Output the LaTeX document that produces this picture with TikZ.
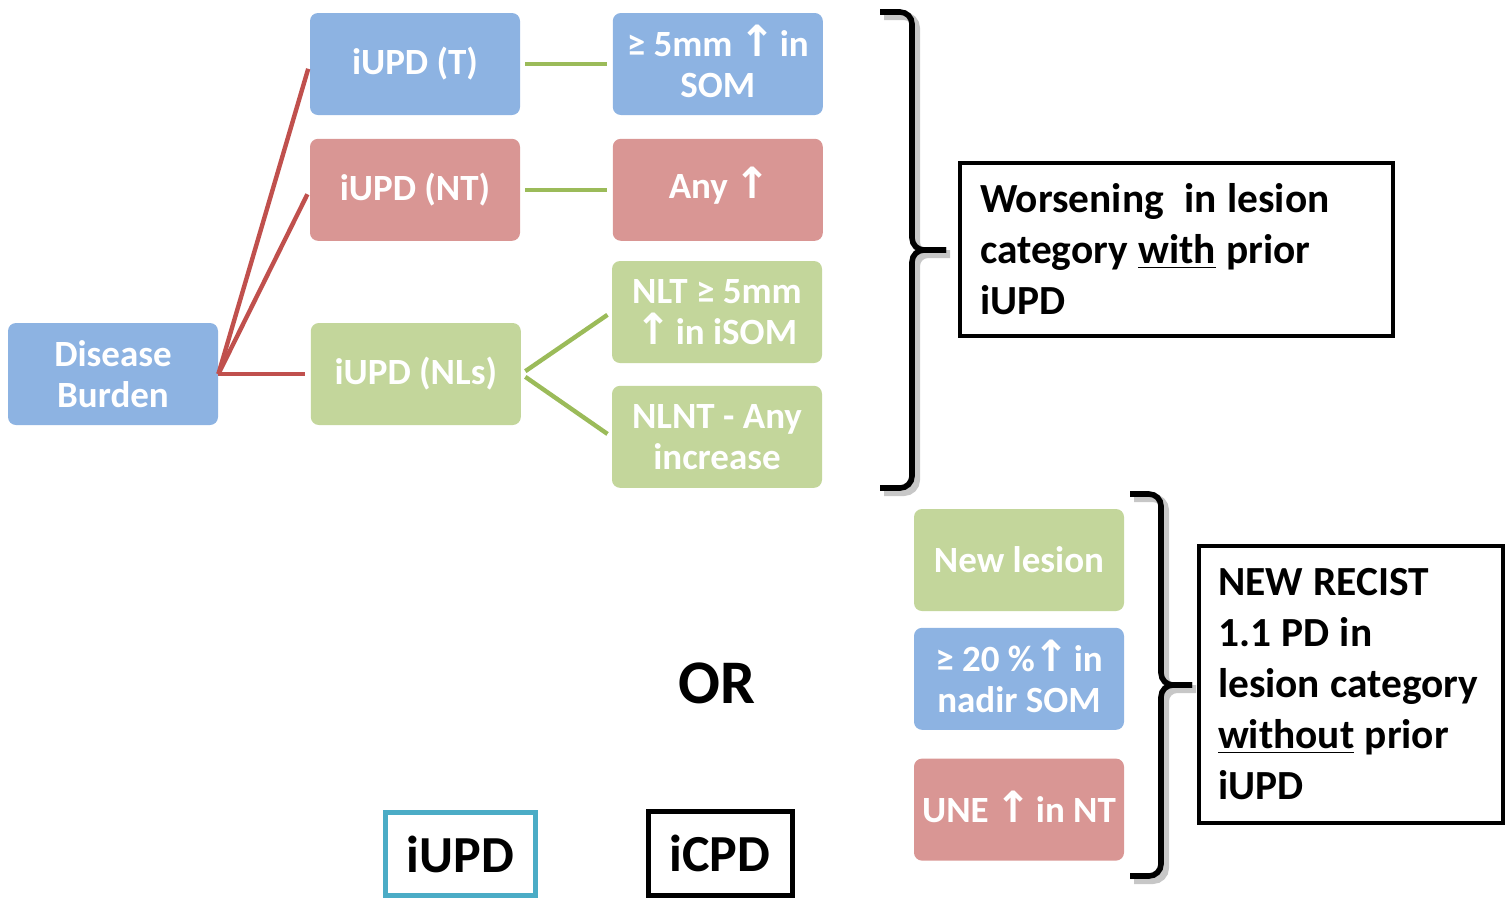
\documentclass[tikz,border=0pt]{standalone}
\usepackage{fontspec}
\setmainfont{Carlito}
\newfontfamily\symfont{DejaVu Sans}
\usepackage{tikz}
\usetikzlibrary{positioning}
\definecolor{boxblue}{HTML}{8DB3E2}
\definecolor{boxred}{HTML}{D99694}
\definecolor{boxgreen}{HTML}{C3D69B}
\definecolor{linered}{HTML}{C0504D}
\definecolor{linegreen}{HTML}{9BBB59}
\definecolor{iupdteal}{HTML}{4BACC6}
\newcommand{\upar}{\smash{\kern-0.05em{\symfont\fontsize{21.5}{20}\selectfont ↑}\kern-0.1em}}

\begin{document}
\begin{tikzpicture}[
x=0.5pt, y=-0.5pt,
every node/.style={font=\bfseries},
cat/.style={
rounded corners=4pt,
minimum width=105pt,
minimum height=51pt,
align=center,
text=white,
font=\fontsize{18.5}{20.5}\selectfont\bfseries
},
tbox/.style={cat, fill=boxblue},
ntbox/.style={cat, fill=boxred},
nlbox/.style={cat, fill=boxgreen},
redline/.style={linered, line width=2.2pt, shorten >=2.5pt},
greenline/.style={linegreen, line width=2.2pt, shorten <=2.5pt, shorten >=2.5pt},
outbox/.style={
draw,
line width=2pt,
align=left,
font=\fontsize{20.7}{25.5}\selectfont\bfseries
},
legbox/.style={draw, line width=2.5pt, font=\fontsize{26}{30}\selectfont\bfseries},
brace/.style={line width=2.8pt, rounded corners=6pt},
braceshadow/.style={brace, black!22, line width=4pt}
]
\useasboundingbox (0,0) rectangle (1505,901);

% Lesion categories
\node[tbox] (db) at (113,374) {Disease\\Burden};
\node[nlbox, right=46pt of db] (nls) {iUPD (NLs)};
\node[tbox] (t) at (415,64) {iUPD (T)};
\node[ntbox, below=11.5pt of t] (nt) {iUPD (NT)};

% Criteria with prior iUPD
\node[tbox, right=46pt of t] (som) {≥ 5mm \upar{} in\\SOM};
\node[ntbox, right=46pt of nt] (any) {Any \upar};
\node[nlbox] (nlt) at (717,312) {NLT ≥ 5mm\\\upar{} in iSOM};
\node[nlbox, below=11pt of nlt] (nlnt) {NLNT - Any\\increase};

% Criteria without prior iUPD
\node[nlbox] (newles) at (1019,560) {New lesion};
\node[tbox, below=8pt of newles] (nadir) {≥ 20 \%\upar{} in\\nadir SOM};
\node[ntbox, below=14pt of nadir] (une) {UNE \upar{} in NT};

% Outcome boxes
\node[outbox, text width=196.5pt, inner xsep=10pt, minimum height=86.5pt] (wors) at (1176.5,249.5)
{\spaceskip=0.25em Worsening\hspace{0.5em}in lesion\\category \underline{with} prior\\iUPD};
\node[outbox, text width=133pt, inner xsep=9.5pt, minimum height=138.5pt] (recist) at (1351,684.5)
{\spaceskip=0.25em NEW RECIST\\1.1 PD in\\\mbox{lesion category}\\\underline{without} prior\\iUPD};

\node[font=\fontsize{31}{36}\selectfont\bfseries] (or) at (717,683) {OR};
\node[legbox, draw=iupdteal, minimum width=75pt, minimum height=41.5pt] (iupd) at (460.5,854) {iUPD};
\node[legbox, minimum width=72pt, minimum height=42pt] (icpd) at (720,853.5) {iCPD};

% Braces
\draw[braceshadow, xshift=2pt, yshift=-2pt] (880,12) -| (912,250) -- (946,250)
  (880,488) -| (912,250) -- (946,250);
\draw[brace] (880,12) -| (912,250) -- (946,250);
\draw[brace] (880,488) -| (912,250) -- (946,250);
\draw[braceshadow, xshift=2pt, yshift=-2pt] (1130,494) -| (1161,685) -- (1192,685)
  (1130,876) -| (1161,685) -- (1192,685);
\draw[brace] (1130,494) -| (1161,685) -- (1192,685);
\draw[brace] (1130,876) -| (1161,685) -- (1192,685);

% Lines
\draw[redline] (db.east) -- (t.west);
\draw[redline] (db.east) -- (nt.west);
\draw[redline] (db.east) -- (nls.west);
\draw[greenline] (t) -- (som);
\draw[greenline] (nt) -- (any);
\draw[greenline] (nls.east) -- (nlt.west);
\draw[greenline] (nls.east) -- (nlnt.west);

\end{tikzpicture}
\end{document}
